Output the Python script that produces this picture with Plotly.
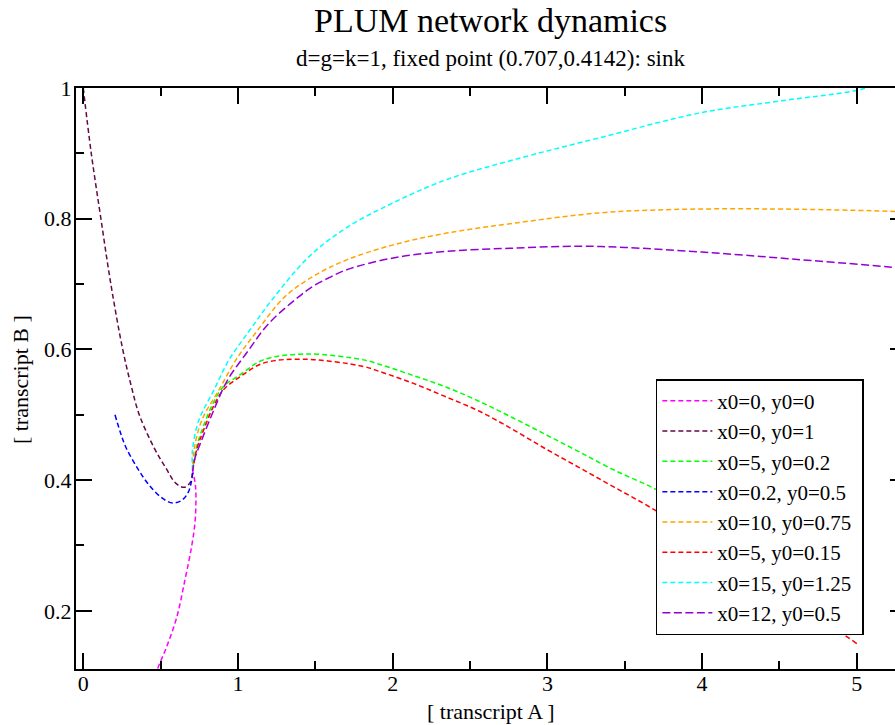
import plotly.graph_objects as go

# ---- data ----
names = ["x0=0, y0=0", "x0=0, y0=1", "x0=5, y0=0.2", "x0=0.2, y0=0.5",
         "x0=10, y0=0.75", "x0=5, y0=0.15", "x0=15, y0=1.25", "x0=12, y0=0.5"]

magenta_x = [0.470, 0.479, 0.539, 0.604, 0.657, 0.700, 0.722, 0.728, 0.725, 0.707]
magenta_y = [0.100, 0.110, 0.145, 0.190, 0.247, 0.298, 0.335, 0.365, 0.392, 0.414]

maroon_x = [0.0, 0.050, 0.114, 0.179, 0.255, 0.308, 0.362, 0.459, 0.535, 0.599, 0.653, 0.696, 0.707]
maroon_y = [1.0, 0.903, 0.800, 0.699, 0.600, 0.546, 0.500, 0.449, 0.418, 0.395, 0.389, 0.398, 0.414]

green_x = [5.0, 4.6, 4.2, 3.90, 3.684, 3.426, 3.20, 2.995, 2.78, 2.564, 2.349, 2.134, 1.918, 1.810,
           1.444, 1.164, 1.013, 0.905, 0.840, 0.776, 0.733, 0.707]
green_y = [0.200, 0.262, 0.320, 0.360, 0.388, 0.416, 0.444, 0.469, 0.495, 0.520, 0.542, 0.560, 0.577, 0.584,
           0.593, 0.584, 0.561, 0.543, 0.518, 0.482, 0.451, 0.414]

blue_x = [0.205, 0.240, 0.276, 0.351, 0.427, 0.513, 0.578, 0.642, 0.685, 0.707]
blue_y = [0.500, 0.473, 0.450, 0.418, 0.392, 0.372, 0.365, 0.370, 0.385, 0.413]

orange_x = [5.30, 5.247, 4.417, 3.80, 3.340, 2.780, 2.349, 2.004, 1.703, 1.487, 1.30,
            1.129, 0.987, 0.877, 0.767, 0.716, 0.707]
orange_y = [0.810, 0.811, 0.815, 0.814, 0.809, 0.793, 0.778, 0.760, 0.737, 0.712, 0.680,
            0.630, 0.584, 0.538, 0.492, 0.446, 0.414]

red_x = [5.0, 4.794, 4.40, 4.00, 3.696, 3.426, 3.20, 2.995, 2.78, 2.564, 2.349, 2.134, 1.918, 1.810,
         1.422, 1.164, 1.013, 0.905, 0.840, 0.780, 0.735, 0.707]
red_y = [0.150, 0.183, 0.245, 0.307, 0.354, 0.390, 0.420, 0.447, 0.477, 0.505, 0.527, 0.548, 0.566, 0.574,
         0.585, 0.579, 0.558, 0.538, 0.512, 0.478, 0.448, 0.414]

cyan_x = [5.10, 5.03, 4.50, 3.99, 3.34, 2.78, 2.35, 2.00, 1.70, 1.46, 1.22, 1.078,
          0.942, 0.845, 0.748, 0.706, 0.707]
cyan_y = [1.005, 0.998, 0.980, 0.962, 0.924, 0.890, 0.860, 0.824, 0.786, 0.742, 0.676, 0.630,
          0.584, 0.538, 0.492, 0.446, 0.414]

purple_x = [5.30, 5.247, 4.60, 4.00, 3.50, 3.211, 2.780, 2.349, 2.004, 1.703, 1.60, 1.487, 1.39,
            1.20, 1.06, 0.93, 0.84, 0.76, 0.72, 0.707]
purple_y = [0.723, 0.725, 0.738, 0.749, 0.756, 0.758, 0.755, 0.750, 0.740, 0.722, 0.711, 0.697, 0.680,
            0.640, 0.596, 0.552, 0.505, 0.458, 0.432, 0.414]

series_x = [magenta_x, maroon_x, green_x, blue_x, orange_x, red_x, cyan_x, purple_x]
series_y = [magenta_y, maroon_y, green_y, blue_y, orange_y, red_y, cyan_y, purple_y]
colors = ["#ff00ff", "#670748", "#00ff00", "#0000ff", "#ffa500", "#ff0000", "#00ffff", "#9400d3"]
dashes = ["5px,3px", "5px,3px", "5px,3px", "5px,3px", "5px,3px", "5px,3px", "5px,3px", "8px,3.5px"]

x_ticks = [0, 1, 2, 3, 4, 5]
y_ticks = [0.2, 0.4, 0.6, 0.8, 1.0]
y_tick_text = ["0.2", "0.4", "0.6", "0.8", "1"]

FONT = "Liberation Serif"
PAD = "&nbsp;"  # keeps the legend box as wide as in the reference

fig = go.Figure()
for n, xs, ys, c, d in zip(names, series_x, series_y, colors, dashes):
    fig.add_trace(go.Scatter(x=xs, y=ys, mode="lines", name=n + PAD,
                             line=dict(color=c, width=1.5, dash=d, shape="spline", smoothing=1.0)))

# invisible trace to carry the right-hand tick marks
fig.add_trace(go.Scatter(x=[None], y=[None], yaxis="y2", showlegend=False, hoverinfo="skip"))

fig.update_layout(
    width=895, height=725,
    margin=dict(l=76, r=0, t=88, b=56),
    paper_bgcolor="white", plot_bgcolor="white",
    font=dict(family=FONT, color="black"),
    xaxis=dict(range=[-0.047, 5.247], tickvals=x_ticks, ticks="inside", ticklen=16, tickwidth=1.5,
               tickcolor="black", showline=True, linewidth=2, linecolor="black", mirror="ticks",
               showgrid=False, zeroline=False, ticklabelstandoff=-6,
               tickfont=dict(size=22, family=FONT, color="black"),
               minor=dict(dtick=0.5, tick0=0, ticks="inside", ticklen=8, tickwidth=1.5, tickcolor="black", showgrid=False)),
    yaxis=dict(range=[0.111, 1.0], tickvals=y_ticks, ticktext=y_tick_text,
               ticks="inside", ticklen=16, tickwidth=1.5, ticklabelstandoff=-2,
               tickcolor="black", showline=True, linewidth=2, linecolor="black", mirror=False,
               showgrid=False, zeroline=False, tickfont=dict(size=22, family=FONT, color="black"),
               minor=dict(dtick=0.1, tick0=0, ticks="inside", ticklen=8, tickwidth=1.5, tickcolor="black", showgrid=False)),
    yaxis2=dict(range=[0.111, 1.0], tickvals=y_ticks, overlaying="y", side="right", anchor="x",
                ticks="inside", ticklen=5, tickwidth=1.5, tickcolor="black", showticklabels=False,
                showline=False, showgrid=False, zeroline=False),
    legend=dict(x=0.708, y=0.499, xanchor="left", yanchor="top", bgcolor="white",
                bordercolor="black", borderwidth=1.5, font=dict(size=21, family=FONT, color="black"),
                itemwidth=50),
    showlegend=True,
)

# titles
fig.add_annotation(text="PLUM network dynamics", xref="paper", yref="paper",
                   x=0.5067, y=(669 - 20) / 581, xanchor="center", yanchor="middle",
                   showarrow=False, font=dict(size=34, family=FONT, color="black"))
fig.add_annotation(text="d=g=k=1, fixed point (0.707,0.4142): sink", xref="paper", yref="paper",
                   x=0.5067, y=(669 - 59) / 581, xanchor="center", yanchor="middle",
                   showarrow=False, font=dict(size=23, family=FONT, color="black"))
fig.add_annotation(text="[ transcript A ]", xref="paper", yref="paper",
                   x=0.5067, y=(669 - 711) / 581, xanchor="center", yanchor="middle",
                   showarrow=False, font=dict(size=22, family=FONT, color="black"))
fig.add_annotation(text="[ transcript B ]", xref="paper", yref="paper", textangle=-90,
                   x=(20 - 76) / 819, y=0.499, xanchor="center", yanchor="middle",
                   showarrow=False, font=dict(size=22, family=FONT, color="black"))

fig.write_html("out.html")
